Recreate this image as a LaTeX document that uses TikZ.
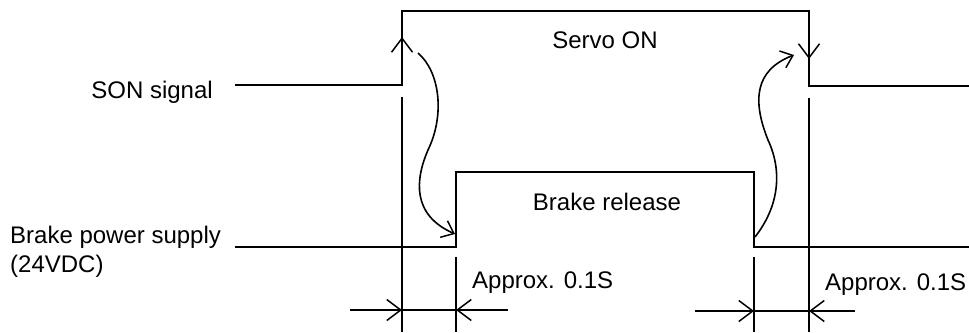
\documentclass[tikz,border=0pt]{standalone}
\usepackage{fontspec}
\setmainfont{Liberation Sans}
\usetikzlibrary{arrows.meta}
\begin{document}
\begin{tikzpicture}[x=1pt,y=-1pt,
  wave/.style={line width=1.8pt,line join=miter},
  guide/.style={line width=1.5pt},
  barb/.style={-{Straight Barb[length=14pt,width=21pt,line width=1.5pt]},line width=1.5pt},
  curvearrow/.style={-{Straight Barb[length=11pt,width=18pt,line width=1.5pt]},line width=1.6pt},
  lbl/.style={inner sep=0pt,font=\fontsize{24}{28}\selectfont}]
\useasboundingbox (0,0) rectangle (969,332);
% coordinates
\coordinate (sonL) at (235,85);
\coordinate (sonUpB) at (402,85);
\coordinate (sonUpT) at (402,11);
\coordinate (sonDnT) at (809,11);
\coordinate (sonDnB) at (809,86);
\coordinate (sonR) at (969,86);
\coordinate (brL) at (235,247);
\coordinate (brUpB) at (456,247);
\coordinate (brUpT) at (456,172);
\coordinate (brDnT) at (754,172);
\coordinate (brDnB) at (754,247);
\coordinate (brR) at (969,247);
% waveforms
\draw[wave] (sonL) -- (sonUpB) -- (sonUpT) -- (sonDnT) -- (sonDnB) -- (sonR);
\draw[wave] (brL) -- (brUpB) -- (brUpT) -- (brDnT) -- (brDnB) -- (brR);
% edge arrows
\coordinate (upA) at (402,58);
\coordinate (upB) at (402,37);
\draw[barb] (upA) -- (upB);
\coordinate (dnA) at (809,38);
\coordinate (dnB) at (809,59);
\draw[barb] (dnA) -- (dnB);
% guide lines
\coordinate (g1t) at (402,97);  \coordinate (g1b) at (402,332);
\coordinate (g2t) at (456,257); \coordinate (g2b) at (456,332);
\coordinate (g3t) at (754,257); \coordinate (g3b) at (754,332);
\coordinate (g4t) at (809,98);  \coordinate (g4b) at (809,332);
\draw[guide] (g1t) -- (g1b);
\draw[guide] (g2t) -- (g2b);
\draw[guide] (g3t) -- (g3b);
\draw[guide] (g4t) -- (g4b);
% dimension lines
\coordinate (d1a) at (350,310); \coordinate (d1p) at (402,310);
\coordinate (d1q) at (456,310); \coordinate (d1b) at (508,310);
\draw[guide] (d1p) -- (d1q);
\draw[barb] (d1a) -- (d1p);
\draw[barb] (d1b) -- (d1q);
\coordinate (d2a) at (695,311); \coordinate (d2p) at (754,311);
\coordinate (d2q) at (809,311); \coordinate (d2b) at (855,311);
\draw[guide] (d2p) -- (d2q);
\draw[barb] (d2a) -- (d2p);
\draw[barb] (d2b) -- (d2q);
% curved arrows
\coordinate (c1s) at (418,53);
\coordinate (c1m) at (428,150);
\coordinate (c1e) at (455,234);
\draw[curvearrow] (c1s) .. controls (440,72) and (445,115) .. (c1m)
   .. controls (415,180) and (412,215) .. (c1e);
\coordinate (c2s) at (755,237);
\coordinate (c2m) at (768,140);
\coordinate (c2e) at (794,55);
\draw[curvearrow] (c2s) .. controls (780,205) and (782,170) .. (c2m)
   .. controls (752,100) and (755,70) .. (c2e);
% labels
\node[lbl,anchor=base east] (son) at (213,98) {SON signal};
\node[lbl,anchor=base west] (brake) at (10,243) {Brake power supply};
\node[lbl,anchor=base west] (vdc) at (10,272) {(24VDC)};
\node[lbl,anchor=base] (servo) at (605,48) {Servo ON};
\node[lbl,anchor=base] (rel) at (607,210) {Brake release};
\node[lbl,anchor=base west] (ap1) at (472,288) {Approx. 0.1S};
\node[lbl,anchor=base west] (ap2) at (825,290) {Approx. 0.1S};
\end{tikzpicture}
\end{document}
